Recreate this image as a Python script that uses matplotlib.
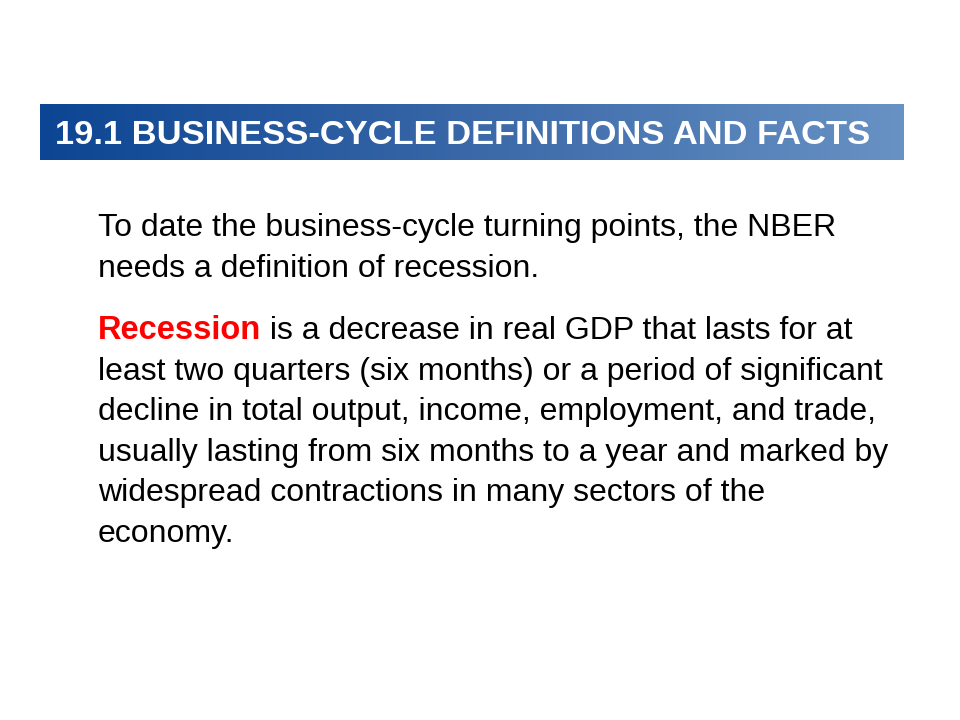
import matplotlib.pyplot as plt
import numpy as np
from matplotlib.colors import LinearSegmentedColormap

title = "19.1 BUSINESS-CYCLE DEFINITIONS AND FACTS"
intro_lines = [
    "To date the business-cycle turning points, the NBER",
    "needs a definition of recession.",
]
term = "Recession"
term_rest = " is a decrease in real GDP that lasts for at"
def_lines = [
    "least two quarters (six months) or a period of significant",
    "decline in total output, income, employment, and trade,",
    "usually lasting from six months to a year and marked by",
    "widespread contractions in many sectors of the",
    "economy.",
]

plt.rcParams['font.family'] = ['Liberation Sans', 'DejaVu Sans']

fig = plt.figure(figsize=(9.6, 7.2), dpi=100)
ax = fig.add_axes([0, 0, 1, 1])
ax.set_xlim(0, 960)
ax.set_ylim(720, 0)
ax.axis('off')

# banner with horizontal gradient
cmap = LinearSegmentedColormap.from_list('banner', ['#0c4593', '#3a68a8', '#6892c4'])
grad = np.linspace(0, 1, 256).reshape(1, -1)
ax.imshow(grad, cmap=cmap, aspect='auto', extent=(40, 904, 160, 104), zorder=1)
ax.text(55, 144, title, color='white', fontsize=24.8, fontweight='bold',
        va='baseline', ha='left', zorder=2)

fs = 23
step = 40.6
for i, line in enumerate(intro_lines):
    ax.text(98, 236 + i * step, line, fontsize=fs, color='black', va='baseline')

t = ax.text(98, 339, term, fontsize=fs + 0.5, fontweight='bold', color='#ff0000', va='baseline')
fig.canvas.draw()
bb = t.get_window_extent()
ax.text(bb.x1, 339, term_rest, fontsize=fs, color='black', va='baseline')
for i, line in enumerate(def_lines):
    ax.text(98, 339 + (i + 1) * step, line, fontsize=fs, color='black', va='baseline')

fig.savefig('out.png', dpi=100)
